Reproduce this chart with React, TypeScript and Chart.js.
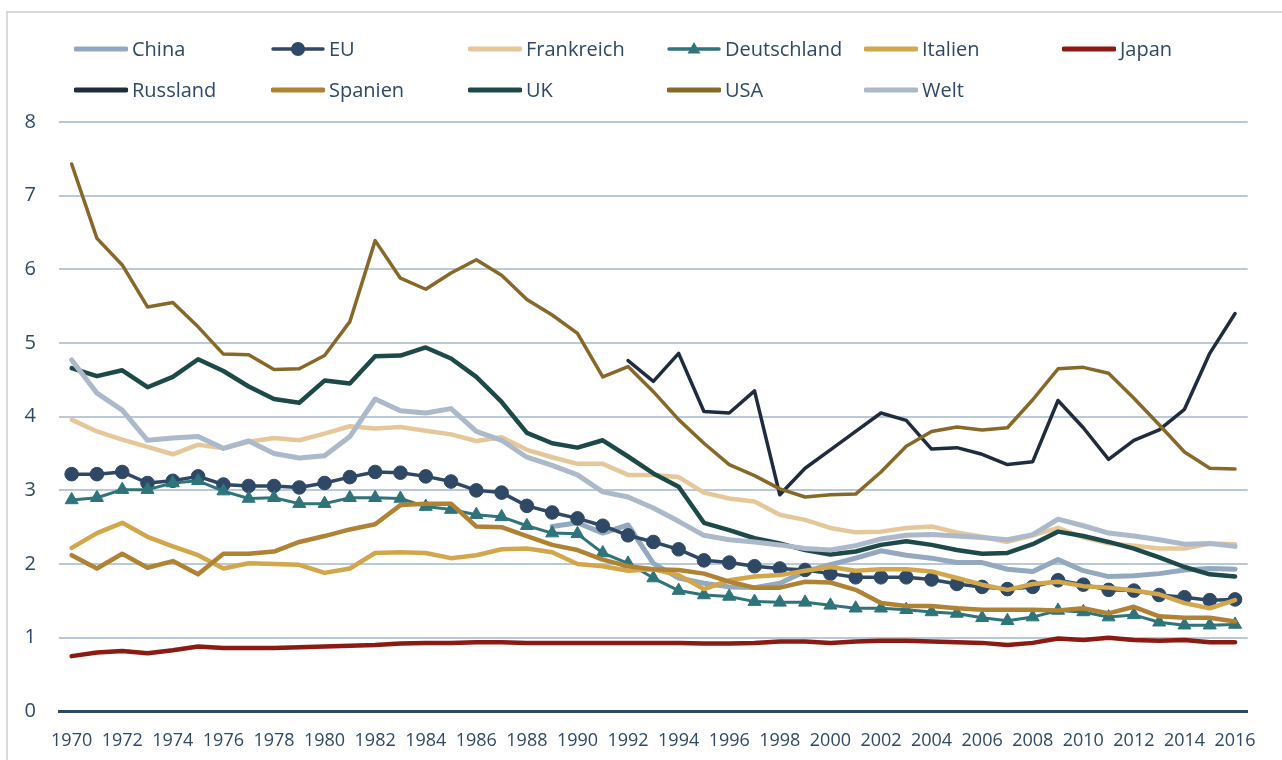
import React, { useEffect, useRef } from 'react';
import { Chart, registerables } from 'chart.js';

Chart.register(...registerables);

const years = [
  '1970', '1971', '1972', '1973', '1974', '1975', '1976', '1977', '1978', '1979',
  '1980', '1981', '1982', '1983', '1984', '1985', '1986', '1987', '1988', '1989',
  '1990', '1991', '1992', '1993', '1994', '1995', '1996', '1997', '1998', '1999',
  '2000', '2001', '2002', '2003', '2004', '2005', '2006', '2007', '2008', '2009',
  '2010', '2011', '2012', '2013', '2014', '2015', '2016',
];

const yTicks = [0, 1, 2, 3, 4, 5, 6, 7, 8];

const N19 = [null, null, null, null, null, null, null, null, null, null, null, null, null, null, null, null, null, null, null];
const N22 = [null, null, null, null, null, null, null, null, null, null, null, null, null, null, null, null, null, null, null, null, null, null];

const china = [
  ...N19,
  2.51, 2.56, 2.42, 2.53, 2.01, 1.81, 1.74, 1.69, 1.68, 1.74, 1.9, 1.99, 2.08, 2.18,
  2.12, 2.08, 2.02, 2.02, 1.93, 1.9, 2.06, 1.91, 1.83, 1.84, 1.87, 1.92, 1.94, 1.93,
];
const eu = [
  3.22, 3.22, 3.25, 3.1, 3.13, 3.19, 3.08, 3.06, 3.06, 3.04,
  3.1, 3.18, 3.25, 3.24, 3.19, 3.12, 3.0, 2.97, 2.79, 2.7,
  2.62, 2.52, 2.39, 2.3, 2.2, 2.05, 2.02, 1.97, 1.94, 1.92,
  1.87, 1.82, 1.82, 1.82, 1.79, 1.73, 1.69, 1.66, 1.69, 1.78,
  1.72, 1.65, 1.64, 1.58, 1.55, 1.51, 1.52,
];
const frankreich = [
  3.96, 3.8, 3.69, 3.59, 3.49, 3.62, 3.57, 3.66, 3.71, 3.68,
  3.77, 3.87, 3.84, 3.86, 3.81, 3.76, 3.67, 3.72, 3.55, 3.45,
  3.36, 3.36, 3.21, 3.21, 3.18, 2.97, 2.89, 2.85, 2.67, 2.6,
  2.49, 2.43, 2.44, 2.49, 2.51, 2.43, 2.37, 2.3, 2.39, 2.49,
  2.36, 2.28, 2.25, 2.21, 2.21, 2.28, 2.27,
];
const deutschland = [
  2.87, 2.9, 3.01, 3.01, 3.1, 3.13, 2.99, 2.89, 2.9, 2.82,
  2.82, 2.9, 2.9, 2.89, 2.78, 2.74, 2.67, 2.64, 2.52, 2.42,
  2.41, 2.15, 2.01, 1.81, 1.64, 1.58, 1.56, 1.49, 1.48, 1.48,
  1.44, 1.4, 1.4, 1.38, 1.35, 1.33, 1.27, 1.23, 1.28, 1.37,
  1.35, 1.28, 1.31, 1.21, 1.17, 1.17, 1.18,
];
const italien = [
  2.22, 2.42, 2.56, 2.37, 2.24, 2.12, 1.94, 2.01, 2.0, 1.99,
  1.88, 1.94, 2.15, 2.16, 2.15, 2.08, 2.12, 2.2, 2.21, 2.16,
  2.0, 1.97, 1.91, 1.93, 1.85, 1.66, 1.78, 1.83, 1.85, 1.91,
  1.96, 1.91, 1.93, 1.93, 1.9, 1.81, 1.72, 1.65, 1.73, 1.76,
  1.7, 1.68, 1.64, 1.59, 1.47, 1.4, 1.51,
];
const japan = [
  0.75, 0.8, 0.82, 0.79, 0.83, 0.88, 0.86, 0.86, 0.86, 0.87,
  0.88, 0.89, 0.9, 0.92, 0.93, 0.93, 0.94, 0.94, 0.93, 0.93,
  0.93, 0.93, 0.93, 0.93, 0.93, 0.92, 0.92, 0.93, 0.95, 0.95,
  0.93, 0.95, 0.96, 0.96, 0.95, 0.94, 0.93, 0.9, 0.93, 0.99,
  0.97, 1.0, 0.97, 0.96, 0.97, 0.94, 0.94,
];
const russland = [
  ...N22,
  4.76, 4.48, 4.86, 4.07, 4.05, 4.35, 2.94, 3.3, 3.55, 3.8, 4.05, 3.95, 3.56,
  3.58, 3.49, 3.35, 3.39, 4.22, 3.85, 3.42, 3.68, 3.82, 4.1, 4.86, 5.4,
];
const spanien = [
  2.12, 1.94, 2.14, 1.95, 2.04, 1.86, 2.14, 2.14, 2.17, 2.3,
  2.38, 2.47, 2.54, 2.8, 2.82, 2.82, 2.51, 2.5, 2.38, 2.26,
  2.19, 2.06, 1.97, 1.93, 1.92, 1.87, 1.76, 1.68, 1.68, 1.76,
  1.75, 1.65, 1.47, 1.43, 1.43, 1.4, 1.38, 1.38, 1.38, 1.37,
  1.4, 1.33, 1.42, 1.29, 1.27, 1.27, 1.22,
];
const uk = [
  4.66, 4.55, 4.63, 4.4, 4.54, 4.78, 4.62, 4.41, 4.24, 4.19,
  4.49, 4.45, 4.82, 4.83, 4.94, 4.79, 4.54, 4.2, 3.78, 3.64,
  3.58, 3.68, 3.46, 3.23, 3.05, 2.56, 2.46, 2.35, 2.28, 2.19,
  2.13, 2.17, 2.26, 2.31, 2.26, 2.19, 2.14, 2.15, 2.27, 2.44,
  2.38, 2.3, 2.21, 2.09, 1.96, 1.86, 1.83,
];
const usa = [
  7.43, 6.42, 6.06, 5.49, 5.55, 5.22, 4.85, 4.84, 4.64, 4.65,
  4.83, 5.29, 6.39, 5.88, 5.73, 5.95, 6.13, 5.92, 5.59, 5.38,
  5.13, 4.54, 4.68, 4.34, 3.96, 3.64, 3.35, 3.2, 3.02, 2.91,
  2.94, 2.95, 3.25, 3.6, 3.8, 3.86, 3.82, 3.85, 4.23, 4.65,
  4.67, 4.59, 4.25, 3.89, 3.52, 3.3, 3.29,
];
const welt = [
  4.77, 4.32, 4.09, 3.68, 3.71, 3.73, 3.57, 3.67, 3.5, 3.44,
  3.47, 3.73, 4.24, 4.08, 4.05, 4.11, 3.8, 3.68, 3.45, 3.34,
  3.21, 2.98, 2.91, 2.76, 2.58, 2.39, 2.33, 2.3, 2.26, 2.21,
  2.19, 2.25, 2.34, 2.39, 2.4, 2.38, 2.36, 2.33, 2.4, 2.61,
  2.52, 2.42, 2.38, 2.33, 2.27, 2.28, 2.24,
];

const TEXT = '#2e4865';
const FONT = '"Open Sans", "Noto Sans", sans-serif';

type Series = {
  label: string;
  data: (number | null)[];
  color: string;
  width: number;
  marker?: 'circle' | 'triangle';
};

const series: Series[] = [
  { label: 'China', data: china, color: '#94a8bf', width: 5 },
  { label: 'EU', data: eu, color: '#2e4865', width: 3.5, marker: 'circle' },
  { label: 'Frankreich', data: frankreich, color: '#e5c79a', width: 4.5 },
  { label: 'Deutschland', data: deutschland, color: '#2e747a', width: 3, marker: 'triangle' },
  { label: 'Italien', data: italien, color: '#d2a64b', width: 4.5 },
  { label: 'Japan', data: japan, color: '#8b1a13', width: 4.5 },
  { label: 'Russland', data: russland, color: '#1f2c3e', width: 3.5 },
  { label: 'Spanien', data: spanien, color: '#b08234', width: 4.5 },
  { label: 'UK', data: uk, color: '#1e4949', width: 4.5 },
  { label: 'USA', data: usa, color: '#876829', width: 3.5 },
  { label: 'Welt', data: welt, color: '#abb9cb', width: 5 },
];

const legendCols = [74, 271, 468, 667, 864, 1062];
const legendRows = [49, 90];

function LegendItem({ s, x, y }: { s: Series; x: number; y: number }) {
  return (
    <div
      style={{
        position: 'absolute',
        left: x,
        top: y - 14,
        height: 28,
        display: 'flex',
        alignItems: 'center',
        whiteSpace: 'nowrap',
      }}
    >
      <svg width={54} height={28} style={{ display: 'block' }}>
        <line
          x1={2}
          y1={14}
          x2={52}
          y2={14}
          stroke={s.color}
          strokeWidth={s.marker ? 3.5 : 5}
          strokeLinecap="round"
        />
        {s.marker === 'circle' && <circle cx={27} cy={14} r={7} fill={s.color} />}
        {s.marker === 'triangle' && (
          <polygon points="27,7 33.5,18.5 20.5,18.5" fill={s.color} />
        )}
      </svg>
      <span
        style={{
          marginLeft: 4,
          fontFamily: FONT,
          fontSize: 20,
          lineHeight: '28px',
          color: TEXT,
        }}
      >
        {s.label}
      </span>
    </div>
  );
}

export default function App() {
  const canvasRef = useRef<HTMLCanvasElement | null>(null);

  useEffect(() => {
    let chart: Chart | null = null;
    let cancelled = false;
    const build = () => {
      if (cancelled || !canvasRef.current) return;
      const n = series.length;
      chart = new Chart(canvasRef.current, {
        type: 'line',
        data: {
          labels: years,
          datasets: series.map((s, i) => ({
            label: s.label,
            data: s.data,
            borderColor: s.color,
            backgroundColor: s.color,
            borderWidth: s.width,
            borderCapStyle: 'round',
            borderJoinStyle: 'round',
            tension: 0,
            fill: false,
            order: n - i,
            pointStyle: s.marker === 'triangle' ? 'triangle' : 'circle',
            pointRadius: s.marker === 'circle' ? 6.8 : s.marker === 'triangle' ? 7.5 : 0,
            pointBorderWidth: s.marker ? 1 : 0,
            pointBackgroundColor: s.color,
            pointBorderColor: s.color,
            pointHoverRadius: 0,
          })),
        },
        options: {
          responsive: false,
          animation: false,
          events: [],
          layout: { padding: { top: 122, right: 34.3, left: 0, bottom: 0 } },
          plugins: {
            legend: { display: false },
            tooltip: { enabled: false },
            title: { display: false },
          },
          scales: {
            x: {
              type: 'category',
              offset: true,
              grid: { display: false, drawTicks: false },
              border: { display: true, color: TEXT, width: 3 },
              ticks: {
                autoSkip: false,
                maxRotation: 0,
                minRotation: 0,
                padding: 19,
                color: TEXT,
                font: { family: FONT, size: 18 },
                callback: (_v: any, i: number) => (i % 2 === 0 ? years[i] : ''),
              },
              afterFit: (s: any) => {
                s.height = 48.6;
              },
            },
            y: {
              min: yTicks[0],
              max: yTicks[yTicks.length - 1],
              ticks: {
                stepSize: 1,
                padding: 23,
                color: TEXT,
                font: { family: FONT, size: 20 },
              },
              grid: { color: '#b9c9d9', lineWidth: 2, drawTicks: false },
              border: { display: false },
              afterFit: (s: any) => {
                s.width = 59;
              },
            },
          },
        },
      } as any);
    };
    const fonts = (document as any).fonts;
    if (fonts && fonts.load) {
      Promise.all([fonts.load('20px "Open Sans"'), fonts.load('18px "Open Sans"')])
        .catch(() => null)
        .then(build);
    } else {
      build();
    }
    return () => {
      cancelled = true;
      if (chart) chart.destroy();
    };
  }, []);

  return (
    <div
      style={{
        position: 'fixed',
        left: 0,
        top: 0,
        width: 1282,
        height: 760,
        background: '#ffffff',
        overflow: 'hidden',
      }}
    >
      <div
        style={{
          position: 'absolute',
          left: 6,
          top: 11,
          width: 1400,
          height: 900,
          borderLeft: '2px solid #d9d9d9',
          borderTop: '2px solid #d9d9d9',
        }}
      />
      <canvas
        ref={canvasRef}
        width={1282}
        height={760}
        style={{ position: 'absolute', left: 0, top: 0, width: 1282, height: 760 }}
      />
      {series.map((s, i) => (
        <LegendItem
          key={s.label}
          s={s}
          x={legendCols[i % 6]}
          y={legendRows[Math.floor(i / 6)]}
        />
      ))}
    </div>
  );
}
